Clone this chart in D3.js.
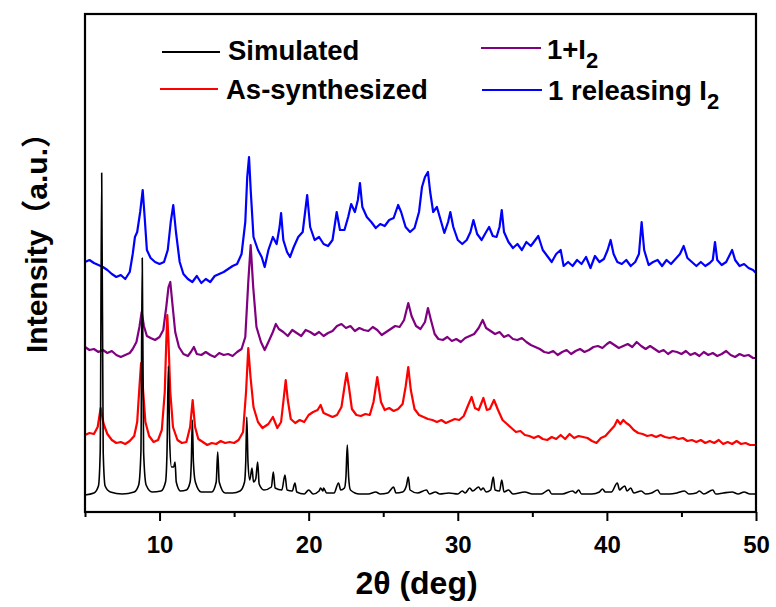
<!DOCTYPE html>
<html>
<head>
<meta charset="utf-8">
<script src="https://cdn.jsdelivr.net/npm/d3@7"></script>
<style>
  html, body { margin: 0; padding: 0; background: #fff; }
  svg { display: block; }
  text { font-family: "Liberation Sans", Arial, "Noto Sans CJK SC", sans-serif; font-weight: bold; fill: #000; }
</style>
</head>
<body>
<svg id="chart" width="776" height="607"></svg>
<script>
// ---------- data (2θ in degrees, intensity in arbitrary units with vertical offsets) ----------
const xTicks = [10, 20, 30, 40, 50];
const xMinorTicks = [5, 15, 25, 35, 45];
const seriesNames = ["Simulated", "As-synthesized", "1+I2", "1 releasing I2"];
const seriesColors = ["#000000", "#ff0000", "#800080", "#0000ff"];

const simulated = [[5.0,17],[5.6,19],[5.9,26],[6.02,60],[6.12,339],[6.22,60],[6.35,26],[6.7,20],[7.5,18],[8.3,20],[8.6,27],[8.75,60],[8.84,254],[8.93,60],[9.1,27],[9.5,20],[10.1,21],[10.4,30],[10.5,60],[10.59,146],[10.68,70],[10.8,45],[10.95,45],[11.04,50],[11.12,30],[11.4,21],[11.8,22],[12.05,30],[12.13,50],[12.2,92],[12.27,50],[12.4,30],[12.8,20],[13.5,20],[13.8,30],[13.9,60],[14.0,30],[14.4,19],[14.9,19],[15.4,21],[15.7,30],[15.78,50],[15.85,95],[15.93,50],[16.05,32],[16.2,44],[16.3,30],[16.45,33],[16.58,50],[16.68,28],[17.0,22],[17.5,25],[17.63,40],[17.75,24],[18.2,22],[18.41,37],[18.55,22],[18.9,21],[19.08,29],[19.2,20],[19.7,18],[20.0,22],[20.3,18],[20.7,21],[20.8,24],[20.95,21],[21.0,24],[21.2,19],[21.7,19],[22.0,29],[22.15,22],[22.4,24],[22.5,35],[22.59,67],[22.68,35],[22.8,22],[23.4,18],[24.0,18],[24.5,20],[24.8,18],[25.3,19],[25.7,25],[25.85,19],[26.3,20],[26.55,26],[26.68,35],[26.8,22],[27.3,19],[27.9,22],[28.1,18],[28.5,20],[28.8,18],[29.4,19],[30.0,18],[30.3,21],[30.5,19],[30.8,24],[31.0,21],[31.4,25],[31.55,22],[31.7,24],[31.9,20],[32.2,22],[32.38,35],[32.5,22],[32.8,21],[32.95,32],[33.1,20],[33.4,22],[33.7,18],[34.5,20],[35.0,18],[35.6,18],[36.1,22],[36.3,18],[37.0,18],[37.7,21],[37.9,19],[38.1,22],[38.3,18],[39.0,18],[39.5,20],[39.7,23],[39.9,20],[40.3,20],[40.7,29],[40.85,22],[41.0,24],[41.2,26],[41.35,21],[41.6,24],[41.8,19],[42.3,21],[42.6,18],[43.0,19],[43.4,22],[43.6,18],[44.2,18],[44.7,19],[45.2,21],[45.5,18],[46.0,19],[46.2,21],[46.5,18],[47.1,22],[47.3,18],[47.8,19],[48.4,20],[48.8,18],[49.2,20],[49.6,18],[50.0,18]];

const asSynthesized = [[5.0,77],[5.3,79],[5.6,78],[5.85,85],[6.05,104],[6.25,88],[6.5,78],[6.8,72],[7.1,69],[7.4,70],[7.7,68],[8.0,71],[8.3,76],[8.5,90],[8.65,125],[8.76,149],[8.88,125],[9.05,90],[9.3,76],[9.6,70],[9.9,72],[10.15,82],[10.35,120],[10.45,170],[10.52,197],[10.6,170],[10.72,120],[10.9,85],[11.2,72],[11.5,69],[11.8,70],[12.05,85],[12.22,112],[12.38,85],[12.6,73],[12.9,70],[13.2,67],[13.5,69],[13.8,68],[14.1,71],[14.4,69],[14.7,70],[15.0,69],[15.3,72],[15.6,80],[15.8,120],[15.95,164],[16.1,135],[16.3,105],[16.6,90],[16.9,84],[17.3,88],[17.6,95],[17.9,84],[18.15,90],[18.3,110],[18.46,132],[18.6,112],[18.8,93],[19.1,89],[19.4,92],[19.7,90],[20.0,97],[20.3,100],[20.6,102],[20.8,107],[21.0,99],[21.3,97],[21.6,95],[21.9,97],[22.2,105],[22.4,125],[22.55,139],[22.7,125],[22.9,103],[23.2,97],[23.5,96],[23.8,98],[24.1,97],[24.35,110],[24.6,135],[24.85,110],[25.1,102],[25.4,104],[25.7,101],[26.0,103],[26.3,108],[26.5,125],[26.68,145],[26.85,122],[27.1,103],[27.4,97],[27.7,95],[28.0,93],[28.3,92],[28.6,90],[28.9,92],[29.2,89],[29.5,91],[29.8,93],[30.1,92],[30.4,96],[30.7,107],[30.93,115],[31.15,104],[31.4,102],[31.72,114],[31.95,102],[32.15,103],[32.43,112],[32.7,102],[33.0,92],[33.3,88],[33.6,84],[33.9,80],[34.2,81],[34.5,77],[34.8,76],[35.1,74],[35.4,76],[35.7,73],[36.0,72],[36.3,75],[36.6,73],[36.9,77],[37.2,73],[37.5,78],[37.8,74],[38.1,76],[38.4,75],[38.7,74],[39.0,71],[39.3,69],[39.6,74],[39.9,76],[40.2,81],[40.5,86],[40.7,92],[40.9,88],[41.1,92],[41.3,89],[41.5,87],[41.8,82],[42.1,79],[42.4,78],[42.7,76],[43.0,77],[43.3,75],[43.6,77],[43.9,75],[44.2,74],[44.5,75],[44.8,73],[45.1,74],[45.4,71],[45.7,72],[46.0,70],[46.3,72],[46.6,69],[46.9,71],[47.2,69],[47.5,72],[47.8,68],[48.1,70],[48.4,68],[48.7,71],[49.0,68],[49.3,69],[49.6,67],[50.0,67]];

const withIodine = [[5.0,165],[5.3,162],[5.6,163],[5.9,160],[6.2,162],[6.5,159],[6.8,161],[7.1,157],[7.4,155],[7.7,157],[8.0,159],[8.2,163],[8.45,170],[8.65,185],[8.8,200],[8.95,186],[9.15,176],[9.4,174],[9.7,172],[10.0,175],[10.25,182],[10.45,205],[10.6,225],[10.72,230],[10.85,210],[11.05,180],[11.3,165],[11.6,158],[11.9,156],[12.1,160],[12.3,165],[12.5,158],[12.8,157],[13.1,160],[13.4,157],[13.7,155],[14.0,159],[14.3,157],[14.6,158],[14.9,156],[15.2,160],[15.5,163],[15.75,175],[15.95,230],[16.11,267],[16.28,225],[16.5,185],[16.8,170],[17.05,162],[17.3,170],[17.6,180],[17.8,188],[18.0,183],[18.3,180],[18.6,176],[18.9,182],[19.2,179],[19.5,176],[19.8,182],[20.1,180],[20.4,177],[20.7,180],[21.0,176],[21.3,179],[21.6,181],[21.9,186],[22.2,188],[22.5,184],[22.8,186],[23.1,181],[23.4,184],[23.7,182],[24.0,181],[24.3,185],[24.6,182],[24.9,177],[25.2,180],[25.5,183],[25.8,186],[26.1,185],[26.4,192],[26.68,209],[26.9,196],[27.2,186],[27.5,183],[27.8,190],[28.0,204],[28.2,192],[28.45,178],[28.7,173],[29.0,172],[29.3,175],[29.6,171],[29.9,173],[30.2,170],[30.5,174],[30.8,176],[31.1,178],[31.4,184],[31.67,192],[31.9,184],[32.2,181],[32.5,178],[32.8,180],[33.1,175],[33.4,177],[33.7,173],[34.0,172],[34.3,174],[34.6,170],[34.9,167],[35.2,165],[35.5,163],[35.8,160],[36.1,159],[36.4,161],[36.7,157],[37.0,160],[37.3,162],[37.6,158],[37.9,161],[38.2,163],[38.5,160],[38.8,162],[39.1,165],[39.4,166],[39.7,164],[40.0,168],[40.2,170],[40.5,167],[40.8,164],[41.1,166],[41.4,168],[41.7,165],[42.0,170],[42.3,166],[42.6,163],[42.9,166],[43.2,163],[43.5,160],[43.8,162],[44.1,158],[44.4,161],[44.7,160],[45.0,158],[45.3,161],[45.6,157],[45.9,159],[46.2,156],[46.5,160],[46.8,157],[47.1,159],[47.4,156],[47.7,158],[48.0,161],[48.3,157],[48.6,155],[48.9,158],[49.2,156],[49.5,157],[49.8,154],[50.0,154]];

const releasing = [[5.0,250],[5.3,252],[5.6,249],[5.9,247],[6.2,245],[6.5,242],[6.8,238],[7.1,235],[7.4,237],[7.7,233],[8.0,240],[8.2,258],[8.35,275],[8.5,280],[8.7,300],[8.87,322],[9.0,295],[9.15,262],[9.4,254],[9.7,250],[10.0,248],[10.3,250],[10.55,262],[10.75,290],[10.92,307],[11.1,280],[11.35,250],[11.6,238],[11.9,233],[12.2,230],[12.5,236],[12.8,229],[13.1,233],[13.4,230],[13.7,236],[14.0,238],[14.3,240],[14.6,243],[14.9,246],[15.2,248],[15.5,258],[15.75,290],[15.88,335],[16.0,355],[16.12,320],[16.3,275],[16.6,262],[16.85,255],[17.05,245],[17.3,262],[17.6,275],[17.85,268],[18.05,285],[18.15,299],[18.3,272],[18.55,260],[18.75,255],[19.0,265],[19.3,275],[19.6,280],[19.9,317],[20.1,285],[20.4,272],[20.7,275],[21.0,268],[21.3,266],[21.6,272],[21.88,300],[22.1,282],[22.4,282],[22.65,295],[22.85,308],[23.1,300],[23.3,312],[23.44,329],[23.6,305],[23.9,295],[24.2,290],[24.5,284],[24.8,288],[25.1,286],[25.4,292],[25.7,294],[26.0,307],[26.2,300],[26.5,285],[26.8,280],[27.1,284],[27.4,300],[27.6,325],[27.8,335],[28.0,340],[28.15,320],[28.35,300],[28.6,305],[28.85,292],[29.1,279],[29.35,290],[29.5,300],[29.7,285],[30.0,272],[30.3,268],[30.6,272],[30.85,280],[31.05,292],[31.3,278],[31.6,272],[31.9,280],[32.1,285],[32.35,276],[32.6,275],[32.8,285],[32.95,302],[33.1,280],[33.4,270],[33.7,264],[34.0,268],[34.3,262],[34.6,270],[34.9,266],[35.1,270],[35.4,276],[35.7,262],[36.0,256],[36.3,250],[36.6,258],[36.9,262],[37.1,246],[37.4,250],[37.7,246],[38.0,252],[38.3,248],[38.6,255],[38.9,244],[39.2,256],[39.5,250],[39.8,253],[40.05,262],[40.25,272],[40.45,258],[40.7,250],[41.0,248],[41.3,252],[41.6,246],[41.9,250],[42.15,258],[42.33,290],[42.5,262],[42.8,247],[43.1,250],[43.4,252],[43.7,246],[44.0,252],[44.3,248],[44.6,253],[44.9,258],[45.15,266],[45.4,254],[45.7,250],[46.0,246],[46.3,250],[46.6,246],[46.9,249],[47.1,252],[47.25,270],[47.4,252],[47.7,247],[48.0,250],[48.2,256],[48.4,262],[48.6,252],[48.9,246],[49.2,248],[49.5,244],[49.8,242],[50.0,239]];

const seriesData = [simulated, asSynthesized, withIodine, releasing];

// ---------- layout ----------
const margin = { left: 85, top: 14, right: 20, bottom: 95 };
const W = 776, H = 607;
const innerW = W - margin.left - margin.right;   // 671
const innerH = H - margin.top - margin.bottom;   // 498

const svg = d3.select("#chart");
const x = d3.scaleLinear().domain([5, 50]).range([margin.left, margin.left + innerW]);
const y = d3.scaleLinear().domain([0, 498]).range([margin.top + innerH, margin.top]);

const smoothLine = d3.line().x(d => x(d[0])).y(d => y(d[1])).curve(d3.curveMonotoneX);
const rawLine = d3.line().x(d => x(d[0])).y(d => y(d[1])).curve(d3.curveLinear);

// draw back-to-front: blue, purple, red, black
const drawOrder = [3, 2, 1, 0];
const widths = [1.6, 2.2, 2.2, 2.2];
drawOrder.forEach(i => {
  svg.append("path")
    .datum(seriesData[i])
    .attr("d", i === 0 ? smoothLine : rawLine)
    .attr("fill", "none")
    .attr("stroke", seriesColors[i])
    .attr("stroke-width", widths[i])
    .attr("stroke-linejoin", "round");
});

// ---------- axes ----------
const bottomY = margin.top + innerH;
const xAxis = d3.axisBottom(x).tickValues(xTicks).tickSize(9).tickSizeOuter(0).tickFormat(d3.format("d"));
const gx = svg.append("g").attr("transform", `translate(0,${bottomY})`).call(xAxis);
gx.select(".domain").remove();
gx.selectAll(".tick line").attr("stroke", "#000").attr("stroke-width", 2);
gx.selectAll(".tick text")
  .attr("y", 41).attr("dy", 0)
  .style("font-size", "24px")
  .style("font-family", "'Liberation Sans', Arial, sans-serif")
  .style("font-weight", "bold")
  .attr("fill", "#000");

const xMinor = d3.axisBottom(x).tickValues(xMinorTicks).tickSize(5).tickSizeOuter(0).tickFormat("");
const gxm = svg.append("g").attr("transform", `translate(0,${bottomY})`).call(xMinor);
gxm.select(".domain").remove();
gxm.selectAll(".tick line").attr("stroke", "#000").attr("stroke-width", 2);

// frame
svg.append("rect")
  .attr("x", margin.left).attr("y", margin.top)
  .attr("width", innerW).attr("height", innerH)
  .attr("fill", "none").attr("stroke", "#000").attr("stroke-width", 2.2);

// axis titles
svg.append("text")
  .attr("x", margin.left + innerW / 2 - 4).attr("y", 594)
  .attr("text-anchor", "middle")
  .style("font-size", "32px")
  .text("2θ (deg)");

svg.append("text")
  .attr("transform", `translate(47,353) rotate(-90)`)
  .attr("text-anchor", "start")
  .style("font-size", "30px")
  .text("Intensity（a.u.）");

// ---------- legend ----------
const legendItems = [
  { i: 0, lx1: 162, lx2: 220, ly: 52, tx: 228, ty: 60 },
  { i: 1, lx1: 160, lx2: 218, ly: 89, tx: 226, ty: 99 },
  { i: 2, lx1: 481, lx2: 541, ly: 48, tx: 547, ty: 59 },
  { i: 3, lx1: 482, lx2: 542, ly: 90, tx: 548, ty: 100 }
];
legendItems.forEach(it => {
  svg.append("line")
    .attr("x1", it.lx1).attr("x2", it.lx2)
    .attr("y1", it.ly).attr("y2", it.ly)
    .attr("stroke", seriesColors[it.i]).attr("stroke-width", 2);
  const name = seriesNames[it.i];
  const t = svg.append("text").attr("x", it.tx).attr("y", it.ty).style("font-size", "27.5px");
  if (name.endsWith("I2")) {
    t.append("tspan").text(name.slice(0, -1));
    t.append("tspan").attr("dy", 9).style("font-size", "22px").text("2");
  } else {
    t.text(name);
  }
});
</script>
</body>
</html>
